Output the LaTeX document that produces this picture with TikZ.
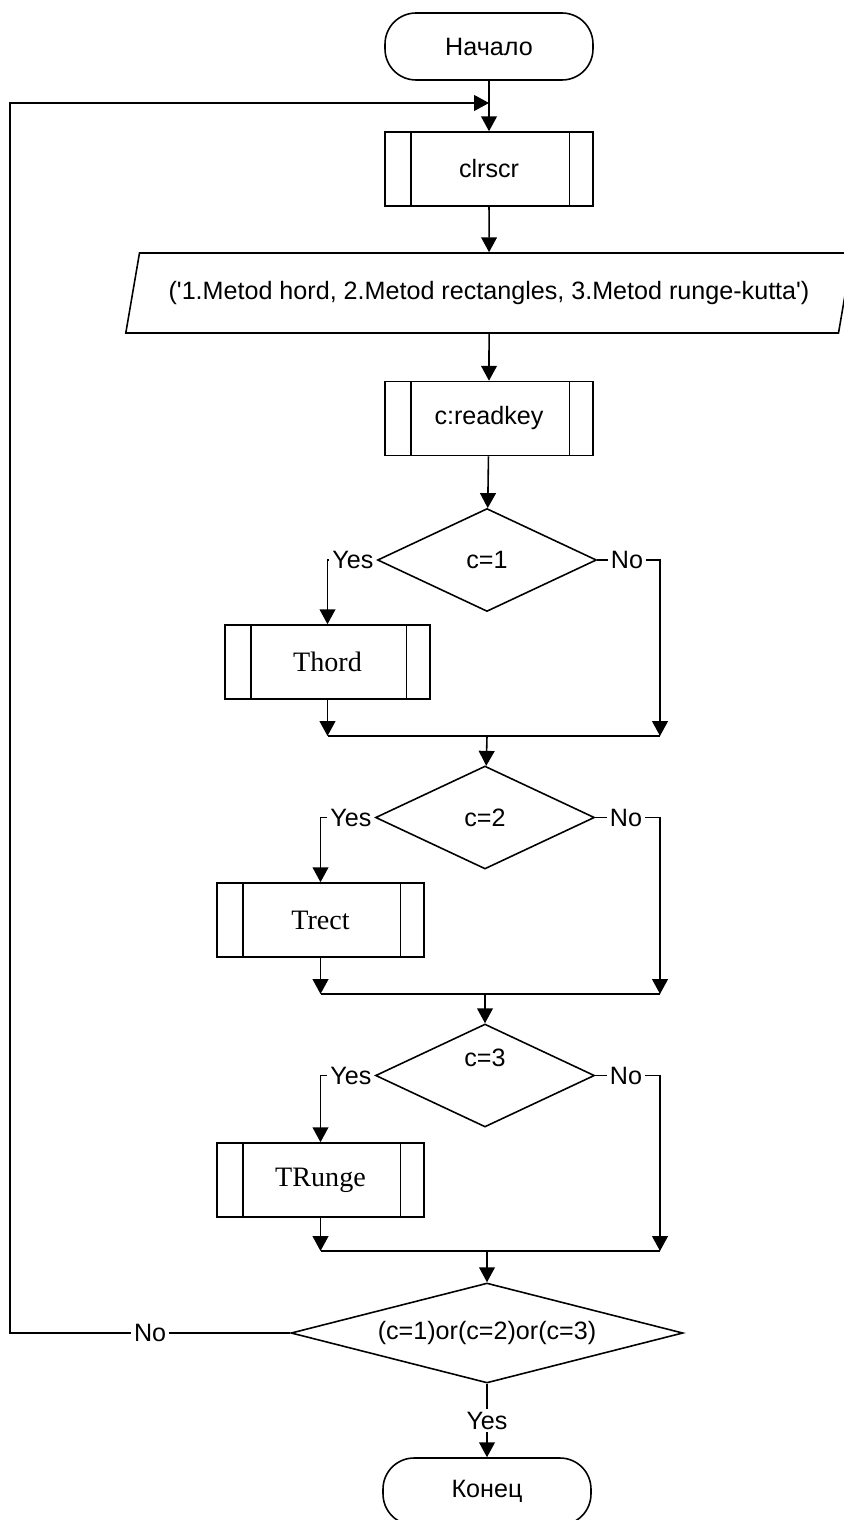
\documentclass[tikz,border=0pt]{standalone}
\usepackage{fontspec}
\setmainfont{Liberation Sans}
\newfontfamily\timesfont{Liberation Serif}
\usetikzlibrary{shapes.geometric,arrows.meta}

\tikzset{
  arr/.style={-{Triangle[length=8.5pt,width=9pt]}},
  term/.style={draw, rounded corners=0.62cm, minimum width=4.16cm, minimum height=1.34cm},
  subr/.style={draw, minimum width=4.16cm, minimum height=1.48cm,
    path picture={
      \draw ([xshift=0.52cm]path picture bounding box.north west) -- ([xshift=0.52cm]path picture bounding box.south west);
      \draw ([xshift=-0.47cm]path picture bounding box.north east) -- ([xshift=-0.47cm]path picture bounding box.south east);
    }},
  io/.style={draw, trapezium, trapezium left angle=70, trapezium right angle=110,
    trapezium stretches=true, minimum width=14.6cm, minimum height=1.6cm},
  cond/.style={draw, diamond, inner sep=0pt, minimum width=4.38cm, minimum height=2.06cm},
  lbl/.style={fill=white, inner sep=1.5pt},
  sublbl/.style={font=\timesfont\fontsize{16pt}{19pt}\selectfont}
}

\begin{document}
\begin{tikzpicture}[x=0.02cm, y=-0.02cm, line width=0.9pt,
    every node/.style={font=\fontsize{14.3pt}{17pt}\selectfont}]
  \useasboundingbox (0,0) rectangle (844,1520);

  % Start, clear screen, menu, key
  \node[term] (start) at (489,46.5) {Начало};
  \node[subr] (clr) at (489,169) {clrscr};
  \coordinate (back) at (489,103);
  \node[io] (menu) at (489,293) {(\textquotesingle1.Metod hord, 2.Metod rectangles, 3.Metod runge-kutta\textquotesingle)};
  \node[subr] (key) at (489,418.5) {c:readkey};
  \draw[arr] (start) -- (clr);
  \draw[arr] (clr) -- (menu);
  \draw[arr] (menu) -- (key);

  % c=1
  \node[cond] (c1) at (487,560) {c=1};
  \draw[arr] (key) -- (c1);
  \node[lbl, anchor=east] (y1) at (c1.west) {Yes};
  \node[lbl] (n1) at (627,560) {No};
  \node[subr, sublbl, minimum width=4.1cm] (thord) at (327.5,662) {Thord};
  \coordinate (l1) at (327.5,736);
  \coordinate (m1) at (487,736);
  \coordinate (r1) at (660,736);
  \draw[arr] (y1.west) -| (thord.north);
  \draw (c1.east) -- (n1.west);
  \draw[arr] (n1.east) -| (r1);
  \draw[arr] (thord) -- (l1);
  \draw (l1) -- (r1);

  % c=2
  \node[cond] (c2) at (485,817.5) {c=2};
  \draw[arr] (m1) -- (c2);
  \node[lbl, anchor=east] (y2) at (c2.west) {Yes};
  \node[lbl] (n2) at (626,817.5) {No};
  \node[subr, sublbl, minimum width=4.14cm] (trect) at (320.5,920) {Trect};
  \coordinate (l2) at (320.5,994);
  \coordinate (m2) at (485,994);
  \coordinate (r2) at (660,994);
  \draw[arr] (y2.west) -| (trect.north);
  \draw (c2.east) -- (n2.west);
  \draw[arr] (n2.east) -| (r2);
  \draw[arr] (trect) -- (l2);
  \draw (l2) -- (r2);

  % c=3
  \node[cond] (c3) at (485,1075.5) {\raisebox{5pt}[0pt][0pt]{c=3}};
  \draw[arr] (m2) -- (c3);
  \node[lbl, anchor=east] (y3) at (c3.west) {Yes};
  \node[lbl] (n3) at (626,1075.5) {No};
  \node[subr, sublbl, minimum width=4.14cm] (trunge) at (320.5,1180) {TRunge};
  \coordinate (l3) at (320.5,1251);
  \coordinate (m3) at (487,1251);
  \coordinate (r3) at (660,1251);
  \draw[arr] (y3.west) -| (trunge.north);
  \draw (c3.east) -- (n3.west);
  \draw[arr] (n3.east) -| (r3);
  \draw[arr] (trunge) -- (l3);
  \draw (l3) -- (r3);

  % Repeat check and end
  \node[cond, aspect=4, minimum width=7.84cm, minimum height=2cm] (c4) at (487,1333) {(c=1)or(c=2)or(c=3)};
  \draw[arr] (m3) -- (c4);
  \node[term] (stop) at (487,1491.5) {Конец};
  \draw[arr] (c4) -- node[lbl] {Yes} (stop);
  \coordinate (loop) at (10,1333);
  \draw[arr] (c4.west) -- node[lbl] {No} (loop) |- (back);
\end{tikzpicture}
\end{document}
